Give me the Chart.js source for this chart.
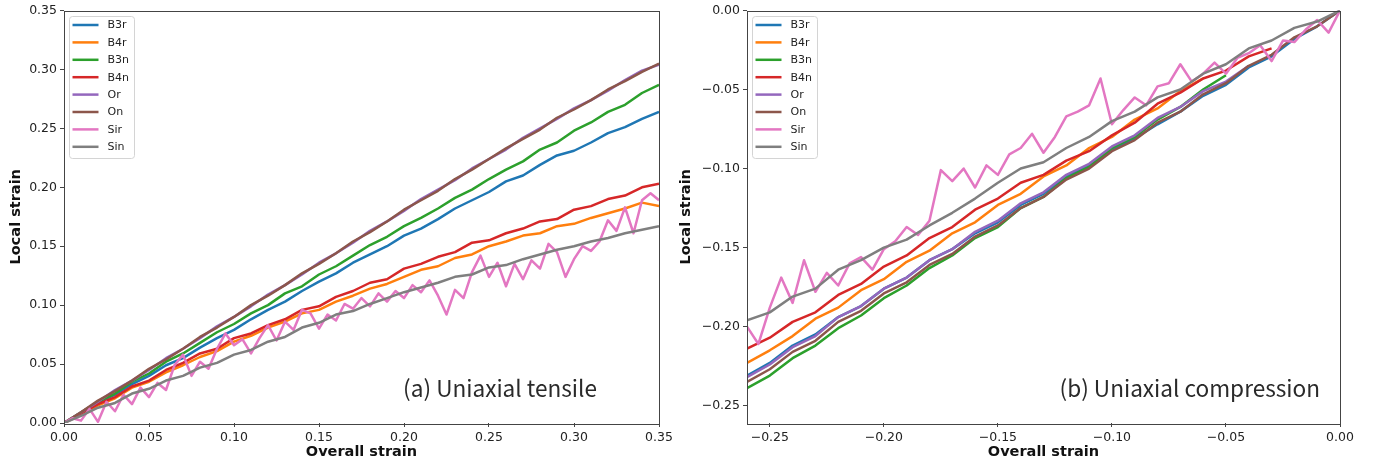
<!DOCTYPE html>
<html>
<head>
<meta charset="utf-8">
<script src="https://cdn.jsdelivr.net/npm/chart.js@4.4.1/dist/chart.umd.min.js"></script>
<style>
  html, body { margin: 0; padding: 0; background: #fff; }
  #wrap { position: relative; width: 1381px; height: 465px; }
  canvas { position: absolute; top: 0; }
  #tensile { left: 0; }
  #compression { left: 670px; }
</style>
</head>
<body>
<div id="wrap">
  <canvas id="tensile" width="690" height="465"></canvas>
  <canvas id="compression" width="711" height="465"></canvas>
</div>
<script>
/* ---------- series names / colours ---------- */
const seriesNames  = ["B3r", "B4r", "B3n", "B4n", "Or", "On", "Sir", "Sin"];
const seriesColors = ["#1f77b4", "#ff7f0e", "#2ca02c", "#d62728", "#9467bd", "#8c564b", "#e377c2", "#7f7f7f"];

/* ---------- (a) uniaxial tensile ---------- */
const tensileX = [0, 0.01, 0.02, 0.03, 0.04, 0.05, 0.06, 0.07, 0.08, 0.09, 0.10, 0.11, 0.12, 0.13, 0.14, 0.15, 0.16, 0.17,
  0.18, 0.19, 0.20, 0.21, 0.22, 0.23, 0.24, 0.25, 0.26, 0.27, 0.28, 0.29, 0.30, 0.31, 0.32, 0.33, 0.34, 0.35];
const tensileXFine = [0, 0.005, 0.01, 0.015, 0.02, 0.025, 0.03, 0.035, 0.04, 0.045, 0.05, 0.055, 0.06, 0.065, 0.07, 0.075,
  0.08, 0.085, 0.09, 0.095, 0.10, 0.105, 0.11, 0.115, 0.12, 0.125, 0.13, 0.135, 0.14, 0.145, 0.15, 0.155, 0.16, 0.165,
  0.17, 0.175, 0.18, 0.185, 0.19, 0.195, 0.20, 0.205, 0.21, 0.215, 0.22, 0.225, 0.23, 0.235, 0.24, 0.245, 0.25, 0.255,
  0.26, 0.265, 0.27, 0.275, 0.28, 0.285, 0.29, 0.295, 0.30, 0.305, 0.31, 0.315, 0.32, 0.325, 0.33, 0.335, 0.34, 0.345, 0.35];

const tenB3r = [0, .008, .017, .024, .033, .040, .049, .055, .064, .072, .079, .088, .096, .103, .112, .120, .127, .136,
  .143, .150, .159, .165, .173, .182, .189, .196, .205, .210, .219, .227, .231, .238, .246, .251, .258, .264];
const tenB4r = [0, .007, .015, .021, .030, .035, .043, .049, .056, .061, .069, .074, .081, .086, .093, .096, .103, .108,
  .114, .118, .124, .130, .133, .140, .143, .150, .154, .159, .161, .167, .169, .174, .178, .182, .187, .184];
const tenB3n = [0, .009, .018, .025, .035, .042, .052, .059, .068, .077, .084, .093, .100, .110, .116, .126, .133, .142,
  .151, .158, .167, .174, .182, .191, .198, .207, .215, .222, .232, .238, .248, .255, .264, .270, .280, .287];
const tenB4n = [0, .008, .016, .022, .031, .036, .045, .051, .059, .063, .072, .076, .083, .088, .096, .099, .107, .112,
  .119, .122, .131, .135, .141, .145, .153, .155, .161, .165, .171, .173, .181, .184, .190, .193, .200, .203];
const tenOr  = [0, .009, .018, .028, .036, .045, .055, .063, .072, .082, .090, .099, .109, .117, .126, .136, .144, .153,
  .163, .171, .180, .190, .198, .206, .216, .224, .232, .242, .250, .258, .267, .274, .282, .291, .299, .304];
const tenOn  = [0, .009, .019, .027, .036, .046, .054, .063, .073, .081, .090, .100, .108, .117, .127, .135, .144, .154,
  .162, .171, .181, .189, .197, .207, .215, .224, .233, .241, .249, .259, .266, .274, .283, .290, .298, .305];
const tenSir = [0, .004, .002, .012, .001, .018, .010, .024, .016, .030, .022, .034, .028, .049, .058, .040, .052, .046,
  .063, .076, .066, .071, .059, .072, .083, .070, .086, .079, .096, .093, .080, .092, .087, .101, .097, .106, .099, .110,
  .103, .112, .106, .117, .111, .121, .108, .092, .113, .106, .128, .142, .124, .136, .116, .135, .122, .138, .131, .152,
  .145, .124, .139, .150, .146, .154, .172, .163, .183, .161, .189, .195, .189];
const tenSin = [0, .006, .013, .017, .025, .029, .036, .040, .047, .051, .058, .062, .069, .073, .081, .085, .092, .095,
  .101, .106, .111, .115, .119, .124, .126, .132, .134, .139, .143, .147, .150, .154, .157, .161, .164, .167];

/* ---------- (b) uniaxial compression ---------- */
const compX = [-0.26, -0.25, -0.24, -0.23, -0.22, -0.21, -0.20, -0.19, -0.18, -0.17, -0.16, -0.15, -0.14, -0.13,
  -0.12, -0.11, -0.10, -0.09, -0.08, -0.07, -0.06, -0.05, -0.04, -0.03, -0.02, -0.01, 0];
const compXFine = [-0.26, -0.255, -0.25, -0.245, -0.24, -0.235, -0.23, -0.225, -0.22, -0.215, -0.21, -0.205, -0.20,
  -0.195, -0.19, -0.185, -0.18, -0.175, -0.17, -0.165, -0.16, -0.155, -0.15, -0.145, -0.14, -0.135, -0.13, -0.125,
  -0.12, -0.115, -0.11, -0.105, -0.10, -0.095, -0.09, -0.085, -0.08, -0.075, -0.07, -0.065, -0.06, -0.055, -0.05,
  -0.045, -0.04, -0.035, -0.03, -0.025, -0.02, -0.015, -0.01, -0.005, 0];

const comB3r = [-.231, -.223, -.212, -.205, -.194, -.187, -.176, -.169, -.158, -.151, -.141, -.134, -.123, -.116,
  -.105, -.098, -.088, -.081, -.072, -.064, -.054, -.047, -.036, -.029, -.018, -.010, 0];
const comB4r = [-.223, -.215, -.206, -.195, -.188, -.177, -.170, -.159, -.152, -.141, -.134, -.123, -.116, -.105,
  -.098, -.087, -.080, -.069, -.062, -.051, -.043];
const comB3n = [-.239, -.231, -.220, -.212, -.201, -.193, -.182, -.174, -.163, -.155, -.144, -.137, -.125, -.118,
  -.106, -.099, -.087, -.080, -.069, -.061, -.050, -.041];
const comB4n = [-.214, -.207, -.197, -.191, -.180, -.173, -.162, -.155, -.144, -.137, -.126, -.119, -.109, -.104,
  -.095, -.089, -.079, -.071, -.059, -.052, -.043, -.038, -.029, -.024];
const comOr  = [-.232, -.224, -.213, -.206, -.194, -.187, -.176, -.169, -.158, -.151, -.140, -.133, -.122, -.115,
  -.104, -.097, -.086, -.079, -.068, -.061, -.051, -.045, -.035];
const comOn  = [-.235, -.227, -.216, -.209, -.197, -.190, -.179, -.172, -.161, -.154, -.143, -.136, -.125, -.118,
  -.107, -.100, -.089, -.082, -.071, -.064, -.053, -.046, -.035, -.028, -.017, -.010, 0];
const comSir = [-.200, -.211, -.188, -.169, -.185, -.158, -.178, -.166, -.174, -.160, -.156, -.164, -.151, -.146,
  -.137, -.142, -.133, -.101, -.108, -.100, -.112, -.098, -.104, -.091, -.087, -.078, -.090, -.080, -.067, -.064,
  -.060, -.043, -.072, -.063, -.055, -.060, -.048, -.046, -.034, -.045, -.040, -.033, -.040, -.030, -.027, -.022,
  -.032, -.019, -.020, -.012, -.006, -.014, 0];
const comSin = [-.196, -.191, -.181, -.176, -.164, -.158, -.150, -.145, -.136, -.128, -.119, -.109, -.100, -.096,
  -.087, -.080, -.070, -.064, -.055, -.050, -.040, -.034, -.024, -.019, -.011, -.007, 0];

/* ---------- helpers ---------- */
function pairs(xs, ys) {
  return ys.map((y, i) => ({ x: xs[i], y: y }));
}

function makeSets(list) {
  return list.map((s, i) => ({
    label: seriesNames[i],
    data: pairs(s[0], s[1]),
    borderColor: seriesColors[i],
    backgroundColor: seriesColors[i],
    borderWidth: 2.5,
    pointRadius: 0,
    tension: 0,
    borderJoinStyle: "round",
    order: list.length - i   // later series on top, like matplotlib
  }));
}

function fmt(v) {
  const r = Math.round(v * 100) / 100;
  return (r < 0 ? "\u2212" : "") + Math.abs(r).toFixed(2);
}

const tickFont  = { family: "DejaVu Sans", size: 12.5 };
const titleFont = { family: "DejaVu Sans", size: 14.5, weight: "bold" };

function axis(min, max, title, horizontal, size) {
  return {
    type: "linear",
    min: min,
    max: max,
    border: { display: false },
    grid: { drawOnChartArea: false, drawTicks: true, tickLength: 4, color: "#444" },
    ticks: {
      stepSize: 0.05, includeBounds: false, autoSkip: false, maxRotation: 0,
      padding: 3, color: "#222", font: tickFont, callback: fmt
    },
    title: {
      display: true, text: title, color: "#111", font: titleFont,
      padding: horizontal ? { top: 0, bottom: 4 } : { top: 8, bottom: 0 }
    },
    afterFit(scale) {
      if (horizontal) scale.height = size; else scale.width = size;
    }
  };
}

/* frame, legend box and panel caption */
const decor = {
  id: "decor",
  afterDatasetsDraw(chart) {
    const { ctx, chartArea: a } = chart;
    ctx.save();
    ctx.strokeStyle = "#444";
    ctx.lineWidth = 1;
    ctx.strokeRect(Math.round(a.left) + 0.5, Math.round(a.top) + 0.5,
      Math.round(a.right - a.left), Math.round(a.bottom - a.top));
    ctx.restore();
  },
  afterDraw(chart, args, opts) {
    const { ctx, chartArea: a } = chart;
    const sets = chart.data.datasets;
    ctx.save();
    const bx = Math.round(a.left) + 5.5, by = Math.round(a.top) + 5.5;
    ctx.fillStyle = "rgba(255,255,255,0.8)";
    ctx.strokeStyle = "#d4d4d4";
    ctx.lineWidth = 1;
    ctx.beginPath();
    ctx.roundRect(bx, by, 65, 142, 3);
    ctx.fill();
    ctx.stroke();
    ctx.font = '11px "DejaVu Sans"';
    ctx.textBaseline = "middle";
    sets.forEach((ds, i) => {
      const y = by + 8.5 + i * 17.4;
      ctx.strokeStyle = ds.borderColor;
      ctx.lineWidth = 2.5;
      ctx.beginPath();
      ctx.moveTo(bx + 3, y);
      ctx.lineTo(bx + 29, y);
      ctx.stroke();
      ctx.fillStyle = "#222";
      ctx.fillText(ds.label, bx + 38, y + 0.5);
    });
    ctx.font = '22.6px "Noto Sans CJK JP"';
    ctx.textAlign = "right";
    ctx.fillStyle = "#2a2a2a";
    ctx.fillText(opts.text, a.right - opts.dx, a.bottom - 35);
    ctx.restore();
  }
};

/* ---------- charts ---------- */
new Chart(document.getElementById("tensile"), {
  type: "line",
  data: {
    datasets: makeSets([
      [tensileX, tenB3r], [tensileX, tenB4r], [tensileX, tenB3n], [tensileX, tenB4n],
      [tensileX, tenOr], [tensileX, tenOn], [tensileXFine, tenSir], [tensileX, tenSin]
    ])
  },
  options: {
    responsive: false,
    animation: false,
    layout: { padding: { top: 10, right: 31, bottom: 0, left: 0 } },
    plugins: { legend: { display: false }, tooltip: { enabled: false }, decor: { text: "(a) Uniaxial tensile", dx: 62 } },
    scales: {
      x: axis(0, 0.35, "Overall strain", true, 42),
      y: axis(0, 0.35, "Local strain", false, 64)
    }
  },
  plugins: [decor]
});

new Chart(document.getElementById("compression"), {
  type: "line",
  data: {
    datasets: makeSets([
      [compX, comB3r], [compX, comB4r], [compX, comB3n], [compX, comB4n],
      [compX, comOr], [compX, comOn], [compXFine, comSir], [compX, comSin]
    ])
  },
  options: {
    responsive: false,
    animation: false,
    layout: { padding: { top: 10, right: 41, bottom: 0, left: 0 } },
    plugins: { legend: { display: false }, tooltip: { enabled: false }, decor: { text: "(b) Uniaxial compression", dx: 20 } },
    scales: {
      x: axis(-0.26, 0, "Overall strain", true, 42),
      y: axis(-0.261, 0, "Local strain", false, 77)
    }
  },
  plugins: [decor]
});
</script>
</body>
</html>
